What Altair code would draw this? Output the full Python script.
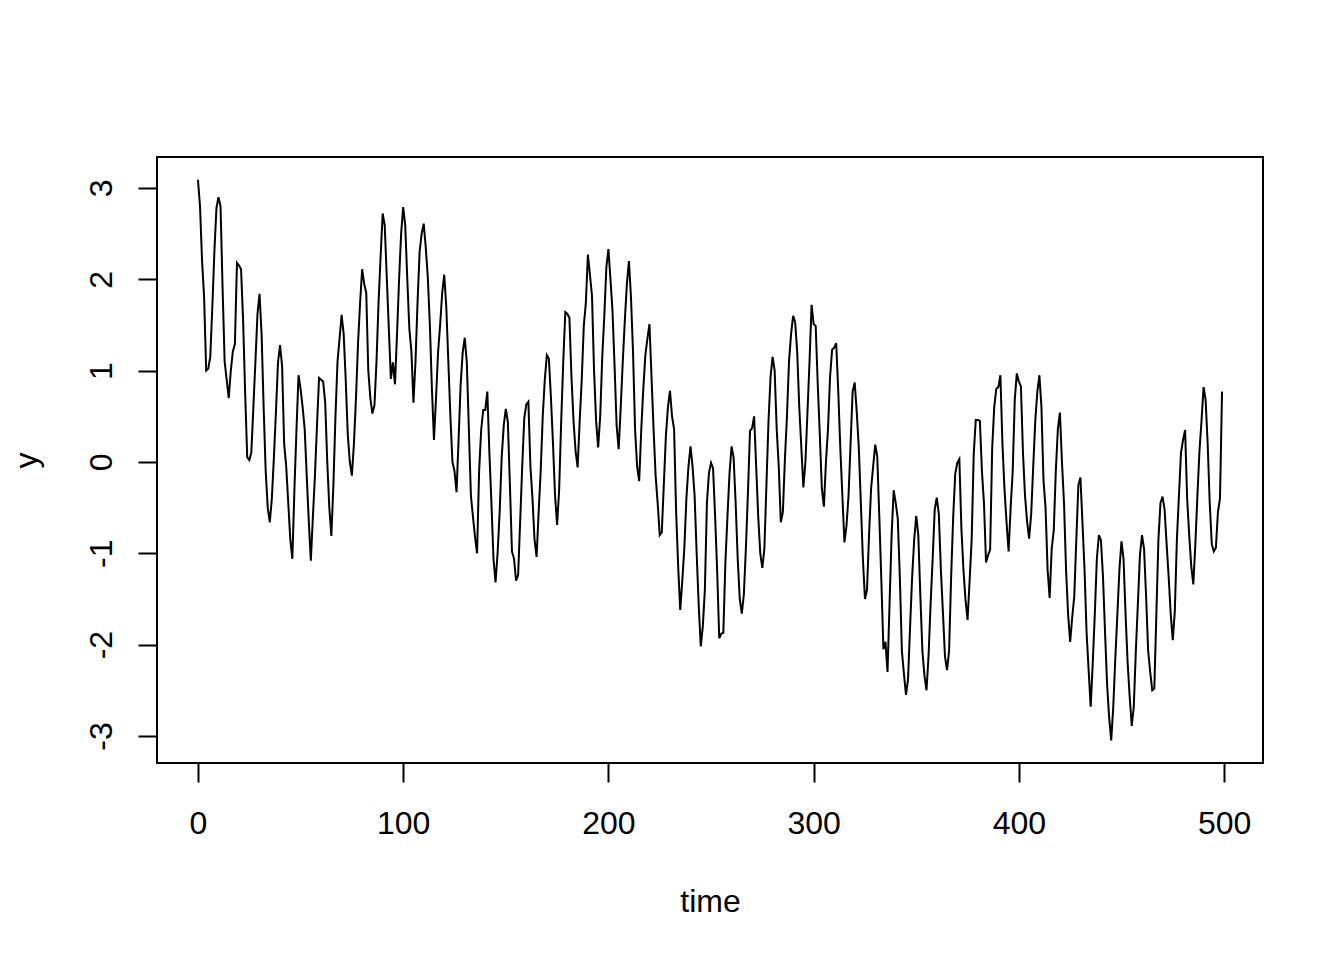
import altair as alt
import pandas as pd

# values, t = 0..99, 100..199, ...
y_000 = [3.09, 2.80, 2.20, 1.80, 1.00, 1.02, 1.15, 1.70, 2.30, 2.78,
         2.90, 2.80, 1.90, 1.10, 0.90, 0.70, 1.00, 1.21, 1.29, 2.18,
         2.15, 2.11, 1.55, 0.75, 0.05, 0.02, 0.10, 0.60, 1.10, 1.62,
         1.84, 1.40, 0.60, -0.10, -0.50, -0.66, -0.40, 0.05, 0.55, 1.09,
         1.28, 1.05, 0.20, -0.05, -0.45, -0.85, -1.06, -0.30, 0.35, 0.95,
         0.80, 0.60, 0.36, -0.15, -0.65, -1.08, -0.60, -0.15, 0.40, 0.92,
         0.90, 0.88, 0.65, 0.00, -0.50, -0.81, -0.25, 0.50, 1.10, 1.35,
         1.61, 1.40, 0.90, 0.30, 0.00, -0.15, 0.20, 0.70, 1.30, 1.74,
         2.11, 1.95, 1.85, 1.00, 0.70, 0.53, 0.62, 1.10, 1.75, 2.25,
         2.72, 2.59, 2.02, 1.46, 0.91, 1.09, 0.85, 1.40, 2.00, 2.50]
y_100 = [2.79, 2.59, 2.00, 1.46, 1.21, 0.65, 1.10, 1.75, 2.30, 2.50,
         2.61, 2.35, 2.02, 1.50, 0.80, 0.24, 0.70, 1.20, 1.50, 1.85,
         2.05, 1.70, 1.10, 0.50, 0.00, -0.10, -0.33, 0.25, 0.85, 1.20,
         1.36, 1.09, 0.36, -0.37, -0.60, -0.82, -1.00, -0.10, 0.35, 0.57,
         0.57, 0.77, 0.10, -0.45, -1.06, -1.32, -1.00, -0.55, 0.05, 0.40,
         0.58, 0.44, -0.25, -0.98, -1.06, -1.30, -1.24, -0.65, -0.05, 0.48,
         0.63, 0.66, -0.05, -0.40, -0.85, -1.04, -0.55, -0.10, 0.50, 0.90,
         1.17, 1.13, 0.70, 0.20, -0.37, -0.69, -0.30, 0.45, 1.10, 1.64,
         1.62, 1.58, 0.93, 0.45, 0.12, -0.06, 0.45, 0.90, 1.49, 1.74,
         2.27, 2.05, 1.82, 1.00, 0.45, 0.16, 0.50, 1.15, 1.60, 2.13]
y_200 = [2.33, 2.00, 1.65, 1.05, 0.40, 0.14, 0.60, 1.10, 1.55, 1.95,
         2.20, 1.80, 1.20, 0.35, -0.05, -0.21, 0.35, 0.80, 1.17, 1.35,
         1.51, 0.93, 0.36, -0.15, -0.45, -0.80, -0.77, -0.25, 0.28, 0.60,
         0.78, 0.50, 0.36, -0.55, -1.15, -1.62, -1.30, -0.94, -0.40, -0.05,
         0.17, -0.05, -0.37, -1.00, -1.57, -2.02, -1.80, -1.40, -0.45, -0.12,
         -0.01, -0.07, -0.60, -1.20, -1.93, -1.88, -1.87, -1.10, -0.60, -0.13,
         0.17, 0.05, -0.45, -1.06, -1.50, -1.66, -1.45, -0.94, -0.33, 0.34,
         0.37, 0.50, -0.05, -0.60, -1.00, -1.16, -0.95, -0.25, 0.44, 0.93,
         1.15, 1.00, 0.36, -0.05, -0.66, -0.55, 0.03, 0.50, 1.10, 1.40,
         1.60, 1.53, 1.20, 0.60, 0.16, -0.28, 0.00, 0.55, 1.10, 1.72]
y_300 = [1.51, 1.49, 0.85, 0.30, -0.29, -0.49, 0.00, 0.36, 0.93, 1.23,
         1.25, 1.30, 0.77, 0.15, -0.37, -0.88, -0.70, -0.37, 0.20, 0.77,
         0.87, 0.55, 0.16, -0.45, -1.06, -1.50, -1.40, -0.80, -0.29, -0.05,
         0.19, 0.06, -0.60, -1.30, -2.05, -1.97, -2.30, -1.55, -0.80, -0.31,
         -0.45, -0.62, -1.26, -2.07, -2.32, -2.55, -2.38, -1.80, -1.26, -0.85,
         -0.59, -0.80, -1.47, -2.07, -2.34, -2.50, -2.12, -1.55, -1.06, -0.52,
         -0.39, -0.57, -1.18, -1.65, -2.13, -2.28, -2.07, -1.26, -0.60, -0.13,
         -0.01, 0.03, -0.73, -1.18, -1.51, -1.73, -1.30, -0.85, 0.08, 0.46,
         0.46, 0.45, -0.10, -0.45, -1.10, -1.02, -0.96, 0.15, 0.60, 0.80,
         0.82, 0.95, 0.20, -0.30, -0.66, -0.98, -0.50, -0.10, 0.68, 0.97]
y_400 = [0.88, 0.83, 0.10, -0.37, -0.65, -0.84, -0.57, -0.05, 0.45, 0.77,
         0.95, 0.60, -0.20, -0.50, -1.18, -1.49, -0.95, -0.75, -0.10, 0.36,
         0.54, 0.00, -0.45, -1.18, -1.67, -1.97, -1.70, -1.47, -0.85, -0.25,
         -0.17, -0.67, -1.18, -1.87, -2.28, -2.68, -2.20, -1.67, -1.06, -0.80,
         -0.86, -1.26, -1.87, -2.44, -2.80, -3.05, -2.68, -2.15, -1.67, -1.18,
         -0.87, -1.06, -1.67, -2.20, -2.57, -2.89, -2.68, -2.07, -1.55, -1.02,
         -0.80, -0.95, -1.47, -2.07, -2.30, -2.50, -2.48, -1.67, -0.85, -0.45,
         -0.38, -0.52, -0.90, -1.26, -1.67, -1.95, -1.63, -0.85, -0.37, 0.10,
         0.24, 0.35, -0.40, -0.80, -1.14, -1.34, -0.90, -0.37, 0.12, 0.45,
         0.82, 0.68, 0.20, -0.45, -0.90, -0.98, -0.94, -0.55, -0.40, 0.77]

y_values = y_000 + y_100 + y_200 + y_300 + y_400
time_values = list(range(len(y_values)))

x_ticks = [0, 100, 200, 300, 400, 500]
y_ticks = [-3, -2, -1, 0, 1, 2, 3]

df = pd.DataFrame({"time": time_values, "y": y_values})

FONT = "Liberation Sans"

chart = (
    alt.Chart(df)
    .mark_line(color="black", strokeWidth=2)
    .encode(
        x=alt.X(
            "time:Q",
            scale=alt.Scale(domain=[-19.96, 518.96], nice=False, zero=False),
            axis=alt.Axis(
                values=x_ticks,
                grid=False,
                domain=False,
                tickColor="black",
                tickWidth=2,
                tickSize=19,
                labelFont=FONT,
                labelFontSize=32,
                labelColor="black",
                labelBaseline="alphabetic",
                labelPadding=51,
                labelExpr="'' + datum.value",
                title="time",
                titleFont=FONT,
                titleFontSize=32,
                titleFontWeight="normal",
                titleColor="black",
                titleBaseline="alphabetic",
                titleAlign="center",
                titleX=553,
                titleY=148,
            ),
        ),
        y=alt.Y(
            "y:Q",
            scale=alt.Scale(domain=[-3.296, 3.339], nice=False, zero=False),
            axis=alt.Axis(
                values=y_ticks,
                grid=False,
                domain=False,
                tickColor="black",
                tickWidth=2,
                tickSize=19,
                labelFont=FONT,
                labelFontSize=32,
                labelColor="black",
                labelAngle=270,
                labelAlign="center",
                labelBaseline="alphabetic",
                labelPadding=27,
                labelExpr="'' + datum.value",
                title="y",
                titleFont=FONT,
                titleFontSize=32,
                titleFontWeight="normal",
                titleColor="black",
                titleAngle=270,
                titleBaseline="alphabetic",
                titleAlign="center",
                titleX=-121,
                titleY=303,
            ),
        ),
    )
    .properties(
        width=1106,
        height=606,
        autosize=alt.AutoSizeParams(type="none"),
        padding={"left": 149, "top": 149, "right": 73, "bottom": 189},
        background="white",
    )
    .configure_view(stroke="black", strokeWidth=2)
)

chart.save("out.html", embed_options={"renderer": "svg", "actions": False})
